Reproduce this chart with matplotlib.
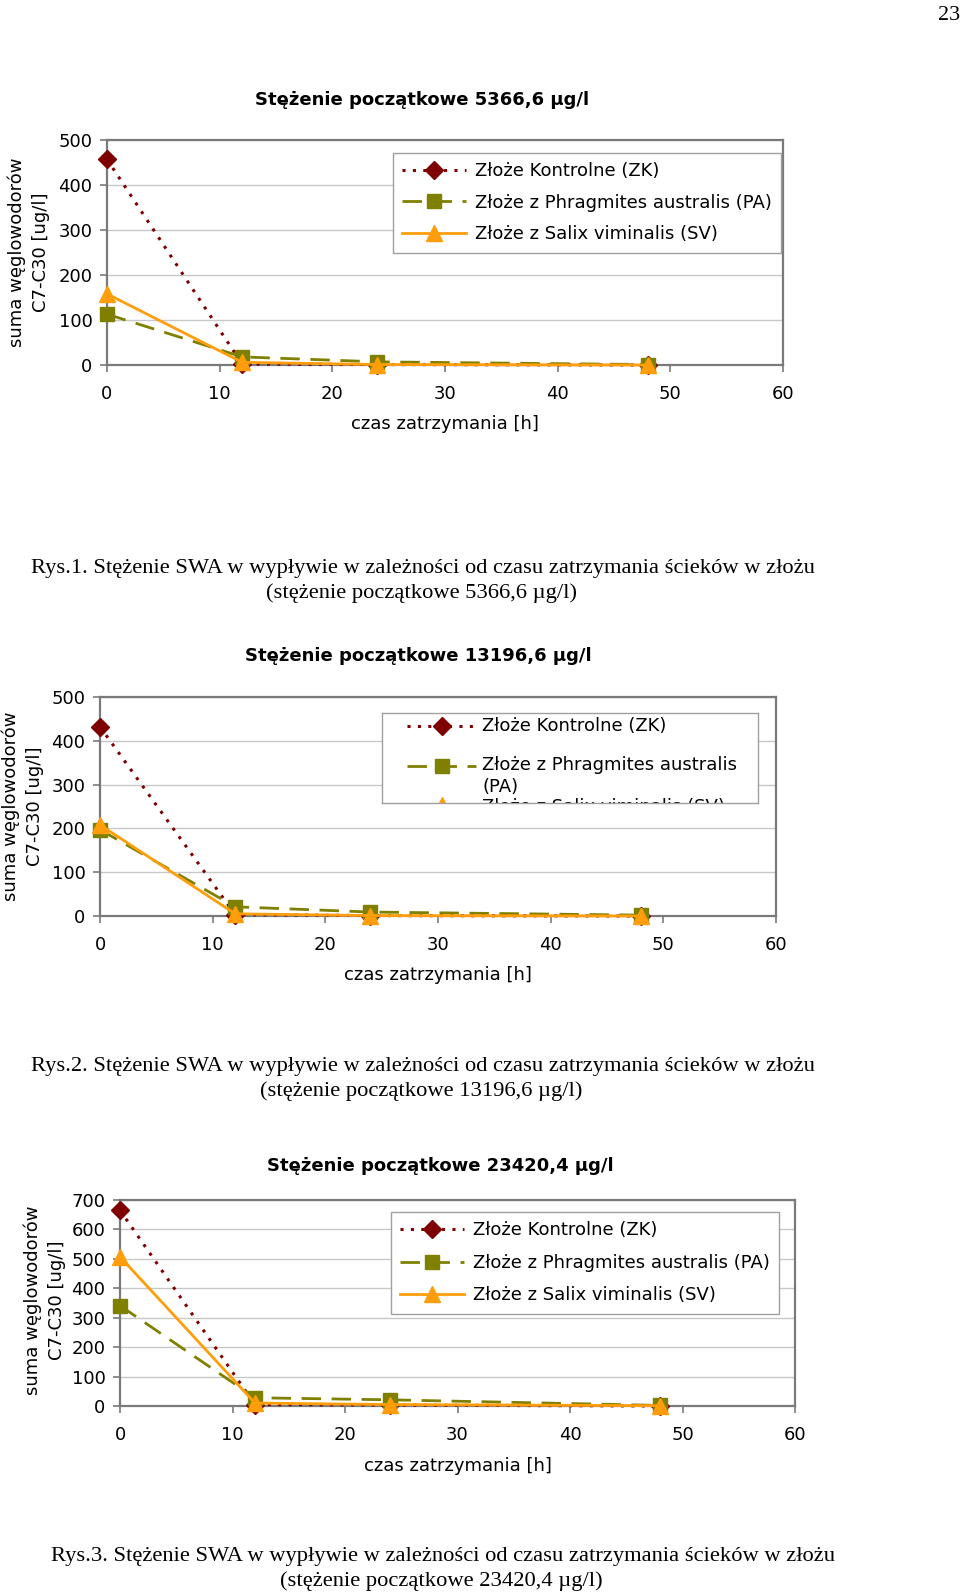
import matplotlib
matplotlib.use("Agg")
import matplotlib.pyplot as plt
from matplotlib.lines import Line2D

# ---------------- data ----------------
time_h = [0, 12, 24, 48]

c1_zk = [457, 2, 1, 0]
c1_pa = [113, 18, 7, 1]
c1_sv = [158, 6, 1, 0]

c2_zk = [432, 3, 1, 0]
c2_pa = [197, 21, 9, 2]
c2_sv = [208, 5, 1, 0]

c3_zk = [665, 5, 3, 0]
c3_pa = [341, 28, 21, 2]
c3_sv = [507, 10, 5, 1]

titles = ["Stężenie początkowe 5366,6 µg/l",
          "Stężenie początkowe 13196,6 µg/l",
          "Stężenie początkowe 23420,4 µg/l"]
labels = ["Złoże Kontrolne (ZK)",
          "Złoże z Phragmites australis (PA)",
          "Złoże z Salix viminalis (SV)"]
captions = [("Rys.1. Stężenie SWA w wypływie w zależności od czasu zatrzymania ścieków w złożu",
             "(stężenie początkowe 5366,6 µg/l)"),
            ("Rys.2. Stężenie SWA w wypływie w zależności od czasu zatrzymania ścieków w złożu",
             "(stężenie początkowe 13196,6 µg/l)"),
            ("Rys.3. Stężenie SWA w wypływie w zależności od czasu zatrzymania ścieków w złożu",
             "(stężenie początkowe 23420,4 µg/l)")]
xlabel = "czas zatrzymania [h]"
ylabel = "suma węglowodorów\nC7-C30 [ug/l]"
x_ticks = [0, 10, 20, 30, 40, 50, 60]
y_ticks_a = [0, 100, 200, 300, 400, 500]
y_ticks_b = [0, 100, 200, 300, 400, 500, 600, 700]

# ---------------- style ----------------
W, H = 960, 1595
fig = plt.figure(figsize=(W / 100, H / 100), dpi=100)
fig.patch.set_facecolor("white")

FS = 13
CAP_FS = 16.2
SANS = ["DejaVu Sans"]
SERIF = ["Liberation Serif", "DejaVu Serif"]
C_ZK, C_PA, C_SV = "#7f0000", "#808000", "#ff9e0a"
GRID = "#c8c8c8"
SPINE = "#7a7a7a"
LEG_EDGE = "#a0a0a0"

styles = [
    dict(color=C_ZK, ls=(0, (1, 2.4)), lw=2.2, marker="D", ms=9, mfc=C_ZK, mec=C_ZK),
    dict(color=C_PA, ls=(0, (7, 3.8)), lw=2.0, marker="s", ms=10, mfc=C_PA, mec=C_PA),
    dict(color=C_SV, ls="-", lw=2.0, marker="^", ms=11, mfc=C_SV, mec=C_SV),
]


def fx(px):
    return px / W


def fy(py):
    return 1 - py / H


def make_axes(L, R, T, B):
    return fig.add_axes([fx(L), fy(B), fx(R - L), (B - T) / H])


def draw_chart(ax, zk, pa, sv, yticks):
    for vals, st in zip([zk, pa, sv], styles):
        ax.plot(time_h, vals, clip_on=False, zorder=3, **st)
    ax.set_xlim(0, 60)
    ax.set_ylim(yticks[0], yticks[-1])
    ax.set_xticks(x_ticks)
    ax.set_yticks(yticks)
    ax.tick_params(axis="both", labelsize=FS, colors=SPINE, labelcolor="black",
                   direction="out", length=5, width=1.2)
    ax.tick_params(axis="x", pad=9.5)
    ax.tick_params(axis="y", pad=5.5)
    ax.yaxis.grid(True, color=GRID, lw=1.0)
    ax.set_axisbelow(True)
    for s in ax.spines.values():
        s.set_color(SPINE)
        s.set_linewidth(1.6)
    for t in ax.get_xticklabels() + ax.get_yticklabels():
        t.set_fontfamily(SANS)


def handles():
    return [Line2D([], [], **st) for st in styles]


def std_legend(ax, x, y, spacing):
    leg = ax.legend(handles(), labels, loc="upper left",
                    bbox_to_anchor=(fx(x), fy(y)), bbox_transform=fig.transFigure,
                    prop={"family": SANS, "size": FS},
                    handlelength=3.5, handletextpad=0.5, labelspacing=spacing,
                    borderpad=0.52, borderaxespad=0, fancybox=False, framealpha=1,
                    edgecolor=LEG_EDGE)
    leg.get_frame().set_linewidth(1.0)
    return leg


# ---------------- chart 1 ----------------
ax1 = make_axes(107, 783, 140, 365)
draw_chart(ax1, c1_zk, c1_pa, c1_sv, y_ticks_a)
fig.text(fx(422), fy(100), titles[0], ha="center", va="center",
         fontsize=FS, fontweight="bold", family=SANS)
fig.text(fx(445), fy(424), xlabel, ha="center", va="center", fontsize=FS, family=SANS)
fig.text(fx(29), fy(252), ylabel, ha="center", va="center", rotation=90,
         fontsize=FS, family=SANS, linespacing=1.45)
std_legend(ax1, 393, 153, 0.74)

# ---------------- chart 2 ----------------
ax2 = make_axes(100, 776, 697, 916)
draw_chart(ax2, c2_zk, c2_pa, c2_sv, y_ticks_a)
fig.text(fx(418), fy(656), titles[1], ha="center", va="center",
         fontsize=FS, fontweight="bold", family=SANS)
fig.text(fx(438), fy(975), xlabel, ha="center", va="center", fontsize=FS, family=SANS)
fig.text(fx(23), fy(806), ylabel, ha="center", va="center", rotation=90,
         fontsize=FS, family=SANS, linespacing=1.45)

# legend box whose content is cut off at the bottom, as in the original
LB_L, LB_R, LB_T, LB_B = 382, 758, 713, 803
axl = fig.add_axes([fx(LB_L), fy(LB_B), fx(LB_R - LB_L), (LB_B - LB_T) / H])
axl.set_xlim(LB_L, LB_R)
axl.set_ylim(LB_B, LB_T)
axl.set_xticks([])
axl.set_yticks([])
for s in axl.spines.values():
    s.set_color(LEG_EDGE)
    s.set_linewidth(1.0)
    s.set_zorder(5)
labels2 = [labels[0], "Złoże z Phragmites australis\n(PA)", labels[2]]
rows_handle_y = [726, 766, 805]
rows_text_y = [726, 776, 807]
h_x0, h_x1, txt_x = 407, 476, 482
for st, hy, ty, lab in zip(styles, rows_handle_y, rows_text_y, labels2):
    axl.plot([h_x0, (h_x0 + h_x1) / 2, h_x1], [hy, hy, hy], markevery=[1], **st)
    axl.text(txt_x, ty, lab, ha="left", va="center", fontsize=FS, family=SANS,
             linespacing=1.3, clip_on=True)

# ---------------- chart 3 ----------------
ax3 = make_axes(120, 795, 1200, 1406)
draw_chart(ax3, c3_zk, c3_pa, c3_sv, y_ticks_b)
fig.text(fx(440), fy(1166), titles[2], ha="center", va="center",
         fontsize=FS, fontweight="bold", family=SANS)
fig.text(fx(458), fy(1466), xlabel, ha="center", va="center", fontsize=FS, family=SANS)
fig.text(fx(45), fy(1300), ylabel, ha="center", va="center", rotation=90,
         fontsize=FS, family=SANS, linespacing=1.45)
std_legend(ax3, 391, 1212, 0.8)

# ---------------- captions ----------------
cap_pos = [(31, 568, 421, 593), (31, 1066, 421, 1091), (51, 1556, 441, 1581)]
for (l1, l2), (x1, y1, x2, y2) in zip(captions, cap_pos):
    fig.text(fx(x1), fy(y1), l1, ha="left", va="center", fontsize=CAP_FS, family=SERIF)
    fig.text(fx(x2), fy(y2), l2, ha="center", va="center", fontsize=CAP_FS, family=SERIF)

fig.text(fx(949), fy(15), "23", ha="center", va="center", fontsize=16, family=SERIF)

fig.savefig("out.png", dpi=100, facecolor="white")
